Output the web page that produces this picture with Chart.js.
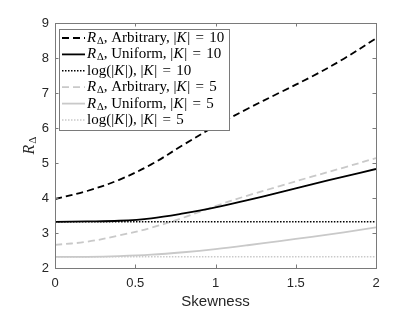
<!DOCTYPE html>
<html><head><meta charset="utf-8">
<script src="https://cdn.jsdelivr.net/npm/chart.js@4.4.0/dist/chart.umd.min.js"></script>
<style>html,body{margin:0;padding:0;background:#fff;}#wrap{width:415px;height:312px;position:relative;}</style>
</head><body><div id="wrap"><canvas id="c" width="415" height="312"></canvas></div>
<script>
// ---- data ----
const skewness = [0, 0.2, 0.4, 0.6, 0.8, 1.0, 1.2, 1.4, 1.6, 1.8, 2.0];
const arbitrary10 = [3.97, 4.20, 4.52, 4.96, 5.52, 6.06, 6.55, 7.01, 7.47, 7.98, 8.56];
const uniform10   = [3.32, 3.33, 3.35, 3.42, 3.56, 3.73, 3.94, 4.16, 4.39, 4.61, 4.83];
const logK10      = [3.32, 3.32, 3.32, 3.32, 3.32, 3.32, 3.32, 3.32, 3.32, 3.32, 3.32];
const arbitrary5  = [2.66, 2.75, 2.93, 3.15, 3.44, 3.77, 4.07, 4.34, 4.61, 4.87, 5.14];
const uniform5    = [2.32, 2.32, 2.34, 2.38, 2.45, 2.54, 2.65, 2.77, 2.89, 3.02, 3.16];
const logK5       = [2.32, 2.32, 2.32, 2.32, 2.32, 2.32, 2.32, 2.32, 2.32, 2.32, 2.32];
const xTickValues = [0, 0.5, 1, 1.5, 2];
const yTickValues = [2, 3, 4, 5, 6, 7, 8, 9];
const xTitle = 'Skewness';
const seriesNames = [
  'R_Δ, Arbitrary, |K| = 10',
  'R_Δ, Uniform, |K| = 10',
  'log(|K|), |K| = 10',
  'R_Δ, Arbitrary, |K| = 5',
  'R_Δ, Uniform, |K| = 5',
  'log(|K|), |K| = 5'
];

// ---- styles ----
const BLACK = '#000000', GRAY = '#c9c9c9';
const styles = [
  {c: BLACK, d: [7, 4], w: 1.8},
  {c: BLACK, d: [], w: 1.8},
  {c: BLACK, d: [1.5, 1.5], w: 1.6},
  {c: GRAY, d: [7, 4], w: 1.8},
  {c: GRAY, d: [], w: 1.8},
  {c: GRAY, d: [1.5, 1.5], w: 1.6}
];
const seriesData = [arbitrary10, uniform10, logK10, arbitrary5, uniform5, logK5];
const drawOrder = [3, 2, 1, 6, 5, 4]; // gray series underneath black ones

const datasets = seriesData.map((arr, i) => ({
  label: seriesNames[i],
  data: skewness.map((x, j) => ({x: x, y: arr[j]})),
  borderColor: styles[i].c,
  borderDash: styles[i].d,
  borderWidth: styles[i].w,
  pointRadius: 0,
  fill: false,
  tension: 0.35,
  order: drawOrder[i]
}));

function parseRich(s) {
  const parts = [];
  let i = 0, buf = '';
  const flush = () => { if (buf) { parts.push({t: buf, s: ''}); buf = ''; } };
  while (i < s.length) {
    if (s.startsWith('R_Δ', i)) { flush(); parts.push({t: 'R', s: 'i'}); parts.push({t: 'Δ', s: 'sub'}); i += 3; }
    else if (s[i] === 'K') { flush(); parts.push({t: 'K', s: 'i'}); i++; }
    else if (s[i] === '=') { flush(); parts.push({t: '=', s: 'op'}); i++; }
    else { buf += s[i]; i++; }
  }
  flush();
  return parts;
}
function drawRich(ctx, x, y, parts, size) {
  for (const p of parts) {
    let fs = size, dy = 0, st = '';
    if (p.s === 'i') st = 'italic ';
    if (p.s === 'sub') { fs = size * 0.7; dy = size * 0.22; }
    ctx.font = st + fs + 'px "Liberation Serif", serif';
    const pad = p.s === 'op' ? 1.5 : 0;
    ctx.fillText(p.t, x + pad, y + dy);
    x += ctx.measureText(p.t).width + (p.s === 'i' ? 0.8 : 0) + pad * 2;
  }
  return x;
}

const decor = {
  id: 'decor',
  afterDatasetsDraw(chart) {
    const ctx = chart.ctx, a = chart.chartArea;
    const xs = chart.scales.x, ys = chart.scales.y;
    ctx.save();
    ctx.strokeStyle = '#7a7a7a'; ctx.lineWidth = 1; ctx.setLineDash([]);
    ctx.strokeRect(Math.round(a.left) + 0.5, Math.round(a.top) + 0.5, Math.round(a.right - a.left), Math.round(a.bottom - a.top));
    const tl = 3.5;
    ctx.beginPath();
    xTickValues.forEach(v => {
      const px = Math.round(xs.getPixelForValue(v)) + 0.5;
      ctx.moveTo(px, a.bottom); ctx.lineTo(px, a.bottom - tl);
      ctx.moveTo(px, a.top); ctx.lineTo(px, a.top + tl);
    });
    yTickValues.forEach(v => {
      const py = Math.round(ys.getPixelForValue(v)) + 0.5;
      ctx.moveTo(a.left, py); ctx.lineTo(a.left + tl, py);
      ctx.moveTo(a.right, py); ctx.lineTo(a.right - tl, py);
    });
    ctx.stroke();
    // legend
    const lx = 59.5, ly = 29.5, lw = 170, lh = 101;
    ctx.fillStyle = '#fff';
    ctx.fillRect(lx, ly, lw, lh);
    ctx.strokeStyle = '#7a7a7a';
    ctx.strokeRect(lx, ly, lw, lh);
    ctx.textBaseline = 'middle'; ctx.textAlign = 'left';
    seriesNames.forEach((name, i) => {
      const cy = 38 + i * 16.4;
      ctx.beginPath();
      ctx.strokeStyle = styles[i].c; ctx.lineWidth = styles[i].w; ctx.setLineDash(styles[i].d);
      ctx.moveTo(62, cy); ctx.lineTo(85, cy); ctx.stroke();
      ctx.setLineDash([]);
      ctx.fillStyle = '#000';
      drawRich(ctx, 87, cy, parseRich(name), 15);
    });
    // x title
    ctx.fillStyle = '#262626';
    ctx.font = '15px "Liberation Sans", Arial, sans-serif';
    ctx.textAlign = 'center'; ctx.textBaseline = 'middle';
    ctx.fillText(xTitle, (a.left + a.right) / 2, 302);
    // y title
    ctx.save();
    ctx.translate(30, (a.top + a.bottom) / 2);
    ctx.rotate(-Math.PI / 2);
    ctx.textAlign = 'left';
    ctx.fillStyle = '#262626';
    ctx.font = 'italic 16px "Liberation Serif", serif';
    const w = ctx.measureText('R').width + 8;
    drawRich(ctx, -w / 2, 0, parseRich('R_Δ'), 16);
    ctx.restore();
    ctx.restore();
  }
};

new Chart(document.getElementById('c'), {
  type: 'line',
  data: {datasets: datasets},
  options: {
    responsive: false, animation: false, devicePixelRatio: 1,
    layout: {padding: {left: 0, right: 39, top: 23, bottom: 0}},
    plugins: {legend: {display: false}, tooltip: {enabled: false}},
    scales: {
      x: {
        type: 'linear', min: 0, max: 2,
        afterBuildTicks: s => { s.ticks = xTickValues.map(v => ({value: v})); },
        afterFit: s => { s.height = 44; },
        grid: {display: false, drawTicks: false},
        border: {display: false},
        ticks: {
          font: {family: '"Liberation Sans", Arial, sans-serif', size: 13},
          color: '#262626', padding: 8, maxRotation: 0, autoSkip: false,
          callback: v => String(v)
        }
      },
      y: {
        type: 'linear', min: 2, max: 9,
        afterBuildTicks: s => { s.ticks = yTickValues.map(v => ({value: v})); },
        afterFit: s => { s.width = 55; },
        grid: {display: false, drawTicks: false},
        border: {display: false},
        ticks: {
          font: {family: '"Liberation Sans", Arial, sans-serif', size: 13},
          color: '#262626', padding: 6, autoSkip: false,
          callback: v => String(v)
        }
      }
    }
  },
  plugins: [decor]
});
</script></body></html>
